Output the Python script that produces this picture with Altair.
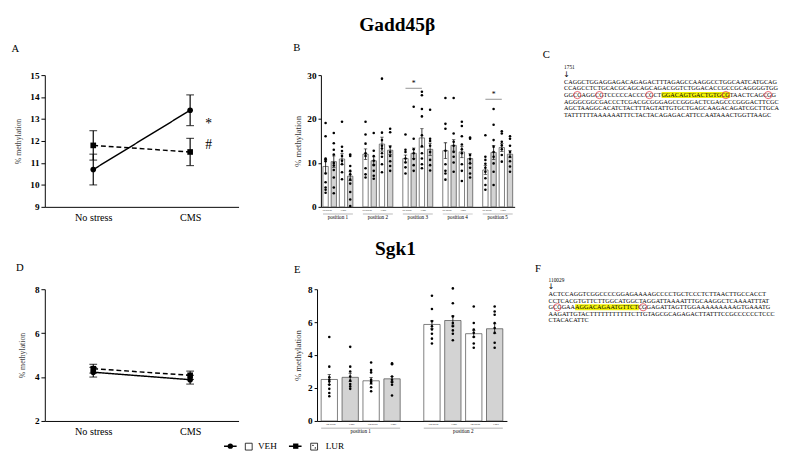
import altair as alt
import pandas as pd

SERIF = "Liberation Serif, Times New Roman, Times, serif"

# ---------------- data ----------------
conditions = ["No stress", "CMS"]
treatments = ["VEH", "LUR"]

# Panel A : Gadd45b mean methylation (line plot)
gadd_veh_mean = [10.7, 13.4]
gadd_veh_sem = [0.7, 0.7]
gadd_lur_mean = [11.8, 11.5]
gadd_lur_sem = [0.67, 0.62]
gadd_annot_text = ["*", "#"]
gadd_annot_y = [12.75, 11.8]

# Panel D : Sgk1 mean methylation (line plot)
sgk_veh_mean = [4.22, 3.88]
sgk_veh_sem = [0.22, 0.2]
sgk_lur_mean = [4.38, 4.08]
sgk_lur_sem = [0.2, 0.19]

# Panel B : Gadd45b per CpG position (bars: NoStress-VEH, NoStress-LUR, CMS-VEH, CMS-LUR)
bar_treatment = ["VEH", "LUR", "VEH", "LUR"]
gadd_positions = ["position 1", "position 2", "position 3", "position 4", "position 5"]
gadd_bar_mean = [[9.2, 10.3, 10.9, 7.0], [12.0, 10.5, 14.3, 12.9], [11.0, 12.2, 15.7, 13.1],
                 [12.8, 14.0, 12.5, 11.0], [8.4, 12.4, 13.5, 12.0]]
gadd_bar_sem = [[1.5, 1.3, 1.2, 1.0], [1.2, 0.9, 1.6, 1.0], [0.8, 1.2, 2.1, 1.4],
                [1.8, 1.3, 1.3, 1.1], [1.0, 1.6, 0.9, 0.8]]
gadd_bar_dots = [
    [[19.1, 16.1, 11.0, 10.8, 10.4, 7.6, 5.6, 4.4, 3.9, 3.2],
     [16.8, 14.5, 13.0, 11.9, 10.0, 9.4, 8.4, 6.7, 4.4, 3.1],
     [19.4, 13.7, 12.7, 11.6, 10.5, 9.7, 7.9, 6.3],
     [11.9, 11.6, 9.3, 8.2, 7.4, 6.2, 5.3, 3.4, 1.7, 0.2]],
    [[19.4, 16.5, 14.4, 12.2, 11.6, 8.8, 7.4, 6.7],
     [16.8, 12.8, 11.6, 10.5, 9.5, 8.2, 7.1, 6.4],
     [29.2, 16.9, 15.2, 13.9, 13.3, 12.2, 11.4, 9.7, 7.9],
     [17.8, 17.0, 13.7, 12.5, 11.6, 10.4, 9.3, 8.2]],
    [[16.5, 13.0, 12.5, 11.0, 10.1, 9.0, 7.6],
     [22.8, 15.5, 13.1, 12.2, 10.9, 9.5, 8.2],
     [26.2, 25.4, 22.3, 20.6, 16.3, 13.8, 12.2, 11.0, 9.7, 8.8],
     [22.1, 15.5, 15.0, 13.9, 12.5, 10.7, 9.5, 8.3]],
    [[24.8, 18.9, 17.8, 12.8, 9.7, 8.2, 7.6, 6.2],
     [24.8, 16.7, 14.8, 13.9, 12.5, 11.4, 10.1, 8.0],
     [19.4, 18.4, 16.1, 14.2, 13.1, 12.2, 9.7, 8.2, 5.9],
     [15.8, 15.5, 11.8, 10.9, 9.9, 8.9, 7.6, 6.7]],
    [[16.3, 11.4, 10.7, 9.8, 8.9, 8.0, 6.5, 5.0, 3.9],
     [22.3, 18.7, 15.2, 13.7, 12.5, 11.4, 9.9, 8.0, 5.0],
     [17.2, 16.7, 14.8, 14.0, 13.1, 11.8, 10.3],
     [16.1, 15.5, 13.9, 12.5, 11.4, 10.4, 9.2, 8.0]],
]
gadd_sublabels = ["No stress", "", "CMS", ""]
gadd_sig_positions = ["position 3", "position 5"]
gadd_sig_y = [27.0, 24.5]

# Panel E : Sgk1 per CpG position
sgk_positions = ["position 1", "position 2"]
sgk_bar_mean = [[2.52, 2.65, 2.44, 2.56], [5.86, 6.1, 5.3, 5.6]]
sgk_bar_sem = [[0.3, 0.25, 0.2, 0.15], [0.25, 0.28, 0.2, 0.3]]
sgk_bar_dots = [
    [[5.1, 3.3, 2.65, 2.5, 2.4, 2.2, 1.95, 1.7, 1.5],
     [4.5, 3.3, 3.0, 2.7, 2.45, 2.25, 2.1, 1.95],
     [3.55, 3.1, 2.95, 2.5, 2.4, 2.3, 2.05, 1.8],
     [3.5, 3.45, 2.7, 2.5, 2.35, 2.2, 1.55]],
    [[7.6, 6.8, 6.05, 5.75, 5.55, 5.3, 5.0, 4.7],
     [8.05, 7.15, 6.35, 5.95, 5.75, 5.5, 5.3, 4.9],
     [6.95, 5.95, 5.55, 5.35, 5.1, 4.7, 4.45],
     [6.95, 6.65, 6.45, 5.95, 5.65, 5.35, 4.75, 4.45]],
]
sgk_sublabels = ["No stress", "CMS", "No stress", "CMS"]

# Panels C and F : sequences
gadd_seq_start = "1751"
gadd_seq = [
    "CAGGCTGGAGGAGACAGAGACTTTAGAGCCAAGGCCTGGCAATCATGCAG",
    "CCAGCCTCTGCACGCAGCAGCAGACGGTCTGGACACCGCCGCAGGGGTGG",
    "GGCGAGGCGTCCCCCACCCCGCTGGACAGTGACTGTGCGTAACTCAGCGG",
    "AGGGCGGCGACCCTCGACGCGGGAGCCGGGACTCGAGCCCGGGACTTCGC",
    "AGCTAAGGCACATCTACTTTAGTATTGTGCTGAGCAAGACAGATCGCTTGCA",
    "TATTTTTTAAAAAATTTCTACTACAGAGACATTCCAATAAACTGGTTAAGC",
]
gadd_highlight = (2, 23, 39)          # line, first char, end char
gadd_cpg = [(2, 2), (2, 7), (2, 19), (2, 37), (2, 47)]

sgk_seq_start = "110029"
sgk_seq = [
    "ACTCCAGGTCGGCCCCGGAGAAAAGCCCCTGCTCCCTCTTAACTTGCCACCT",
    "CCTCACGTGTTCTTGGCATGGCTAGGATTAAAATTTGCAAGGCTCAAAATTTAT",
    "GCGGAAAGGACAGAATGTTCTCGGAGATTAGTTGGAAAAAAAAAGTGAAATG",
    "AAGATTGTACTTTTTTTTTTTCTTGTAGCGCAGAGACTTATTTCCGCCCCCCTCCC",
    "CTACACATTC",
]
sgk_highlight = (2, 6, 21)
sgk_cpg = [(2, 1), (2, 21)]

# Times/Liberation Serif advance widths (em) for the sequence letters
CHAR_EM = {"A": 0.722, "C": 0.667, "G": 0.722, "T": 0.611}

HATCH = "#d3d3d3"
PLOT_H = 136


# ---------------- helpers ----------------
def line_panel(veh_m, veh_s, lur_m, lur_s, dom, ticks, letter, title_offset,
               annot=None, annot_y=None, height=PLOT_H):
    rows = []
    for g, ms, ss in (("VEH", veh_m, veh_s), ("LUR", lur_m, lur_s)):
        for c, m, s in zip(conditions, ms, ss):
            rows.append({"group": g, "cond": c, "mean": m, "lo": m - s, "hi": m + s})
    df = pd.DataFrame(rows)
    caps = df.melt(id_vars=["group", "cond"], value_vars=["lo", "hi"], value_name="v")

    xenc = alt.X("cond:N", sort=conditions,
                 scale=alt.Scale(type="point", domain=conditions, padding=0.5),
                 axis=alt.Axis(title=None, labelAngle=0, ticks=False, labelFontSize=10.5,
                               labelPadding=6, labelFont=SERIF))
    yscale = alt.Scale(domain=dom, nice=False, zero=False)
    yaxis = alt.Axis(values=ticks, title="% methylation", titleFontSize=8,
                     titleFontWeight="normal", titleColor="#444", labelFontSize=9.5,
                     labelFontWeight="bold", labelFont=SERIF, titleFont=SERIF,
                     tickSize=4, labelPadding=2, titlePadding=8)

    def Y(f):
        return alt.Y(f"{f}:Q", scale=yscale, axis=yaxis)

    dash = alt.StrokeDash("group:N", scale=alt.Scale(domain=treatments, range=[[1, 0], [5, 3]]),
                          legend=None)
    shape = alt.Shape("group:N", scale=alt.Scale(domain=treatments, range=["circle", "square"]),
                      legend=None)
    base = alt.Chart(df)
    err = base.mark_rule(color="black", strokeWidth=1.2).encode(x=xenc, y=Y("lo"), y2="hi:Q")
    cap = alt.Chart(caps).mark_tick(color="black", thickness=1.2, size=8).encode(x=xenc, y=Y("v"))
    line = base.mark_line(color="black", strokeWidth=1.5).encode(
        x=xenc, y=Y("mean"), strokeDash=dash, detail="group:N")
    pts = base.mark_point(filled=True, color="black", opacity=1, size=34).encode(
        x=xenc, y=Y("mean"), shape=shape)
    layers = [err, cap, line, pts]
    if annot:
        adf = pd.DataFrame({"cond": ["CMS"] * len(annot), "v": annot_y, "t": annot})
        layers.append(alt.Chart(adf).mark_text(dx=19, fontSize=14, font=SERIF, color="black",
                                               baseline="middle").encode(
            x=xenc, y=Y("v"), text="t:N"))
    return alt.layer(*layers).properties(
        width=200, height=height,
        title=alt.Title(letter, anchor="start", frame="bounds", fontSize=11,
                        fontWeight="normal", font=SERIF, offset=title_offset, dx=-3))


def bar_panel(positions, means, sems, dots, sublabels, dom, ticks, letter, title_offset,
              width, height, pad_inner, pad_outer, off_inner, jitter, sub_size,
              sig_pos=None, sig_y=None):
    rows, drows, lrows = [], [], []
    for p, ms, ss, ds in zip(positions, means, sems, dots):
        for b, (m, s, d) in enumerate(zip(ms, ss, ds), start=1):
            rows.append({"pos": p, "bar": b, "trt": bar_treatment[b - 1],
                         "mean": m, "lo": m - s, "hi": m + s})
            for v in d:
                drows.append({"pos": p, "bar": b, "v": v})
            if sublabels[b - 1]:
                lrows.append({"pos": p, "bar": b, "lab": sublabels[b - 1]})
    df = pd.DataFrame(rows)
    ddf = pd.DataFrame(drows)
    ldf = pd.DataFrame(lrows)
    caps = df.melt(id_vars=["pos", "bar"], value_vars=["lo", "hi"], value_name="v")

    xenc = alt.X("pos:N", sort=positions,
                 scale=alt.Scale(domain=positions, paddingInner=pad_inner, paddingOuter=pad_outer),
                 axis=alt.Axis(title=None, labelAngle=0, ticks=False, labelFontSize=5.3,
                               labelPadding=8, labelFont=SERIF))
    xo = alt.XOffset("bar:O", scale=alt.Scale(domain=[1, 2, 3, 4], paddingInner=off_inner))
    yscale = alt.Scale(domain=dom, nice=False, zero=True)
    yaxis = alt.Axis(values=ticks, title="% methylation", titleFontSize=9,
                     titleFontWeight="normal", titleColor="#333", labelFontSize=9.5,
                     labelFontWeight="bold", labelFont=SERIF, titleFont=SERIF,
                     tickSize=3, labelPadding=2, titlePadding=5)

    def Y(f):
        return alt.Y(f"{f}:Q", scale=yscale, axis=yaxis)

    fill = alt.Fill("trt:N", scale=alt.Scale(domain=treatments, range=["white", HATCH]),
                    legend=None)
    bars = alt.Chart(df).mark_bar(stroke="#444", strokeWidth=0.7).encode(
        x=xenc, xOffset=xo, y=Y("mean"), fill=fill)
    err = alt.Chart(df).mark_rule(color="black", strokeWidth=0.8).encode(
        x=xenc, xOffset=xo, y=Y("lo"), y2="hi:Q")
    cap = alt.Chart(caps).mark_tick(color="black", thickness=0.8, size=3.5).encode(
        x=xenc, xOffset=xo, y=Y("v"))
    layers = [bars, err, cap]
    for k, dx in enumerate(jitter):
        layers.append(
            alt.Chart(ddf).transform_window(idx="row_number()", groupby=["pos", "bar"])
            .transform_filter(f"datum.idx % {len(jitter)} == {k}")
            .mark_circle(size=7, color="black", opacity=1, dx=dx)
            .encode(x=xenc, xOffset=xo, y=Y("v"))
        )
    layers.append(alt.Chart(ldf).mark_text(fontSize=sub_size, font=SERIF, baseline="top",
                                           color="black", dx=1.5).encode(
        x=xenc, xOffset=xo, y=alt.value(height + 2.5), text="lab:N"))
    layers.append(alt.Chart(pd.DataFrame({"pos": positions})).mark_rect(color="#999").encode(
        x=xenc, y=alt.value(height + 7), y2=alt.value(height + 7.7)))
    if sig_pos:
        srows, trows = [], []
        for i, (p, yv) in enumerate(zip(sig_pos, sig_y)):
            srows += [{"pos": p, "bar": 1, "v": yv, "id": i}, {"pos": p, "bar": 3, "v": yv, "id": i}]
            trows.append({"pos": p, "bar": 2, "v": yv + 1.0, "t": "*"})
        layers.append(alt.Chart(pd.DataFrame(srows)).mark_line(color="#777", strokeWidth=0.8).encode(
            x=xenc, xOffset=xo, y=Y("v"), detail="id:N"))
        layers.append(alt.Chart(pd.DataFrame(trows)).mark_text(fontSize=8, font=SERIF, color="black",
                                                               baseline="middle").encode(
            x=xenc, xOffset=xo, y=Y("v"), text="t:N"))
    return alt.layer(*layers).properties(
        width=width, height=height,
        title=alt.Title(letter, anchor="start", frame="bounds", fontSize=11,
                        fontWeight="normal", font=SERIF, offset=title_offset))


def seq_panel(start_label, lines, hl, cpg, letter, title_offset, title_dx, first_px,
              width=240, height=PLOT_H):
    fs = 6.4
    x0 = -14 / fs
    xs = alt.Scale(domain=[x0, x0 + width / fs], nice=False, zero=False)
    row_px = 6.8
    y0 = -first_px / row_px
    ys = alt.Scale(domain=[y0, y0 + height / row_px], nice=False, zero=False, reverse=True)

    def em(s):
        return sum(CHAR_EM[c] for c in s)

    tdf = pd.DataFrame({"x": [0.0] * len(lines), "r": list(range(len(lines))), "t": lines})
    ln, a, b = hl
    hdf = pd.DataFrame({"x": [em(lines[ln][:a])], "x2": [em(lines[ln][:b])],
                        "r": [ln - 0.46], "r2": [ln + 0.46]})
    cdf = pd.DataFrame({"x": [em(lines[l][:i]) + em(lines[l][i:i + 2]) / 2 for l, i in cpg],
                        "r": [l for l, i in cpg]})
    X = alt.X("x:Q", scale=xs, axis=None)
    Yr = alt.Y("r:Q", scale=ys, axis=None)
    hlayer = alt.Chart(hdf).mark_rect(color="#f2f20a").encode(x=X, x2="x2:Q", y=Yr, y2="r2:Q")
    text = alt.Chart(tdf).mark_text(align="left", baseline="middle", font=SERIF, fontSize=fs,
                                    color="black").encode(x=X, y=Yr, text="t:N")
    circ = alt.Chart(cdf).mark_point(shape="circle", filled=False, color="#e0404a",
                                     strokeWidth=0.8, size=55, opacity=1).encode(x=X, y=Yr)
    sdf = pd.DataFrame({"x": [0.0], "r": [-2.2], "t": [start_label]})
    start = alt.Chart(sdf).mark_text(align="left", baseline="middle", font=SERIF, fontSize=5.5,
                                     color="black").encode(x=X, y=Yr, text="t:N")
    adf = pd.DataFrame({"x": [0.4], "r": [-1.0], "t": ["↓"]})
    arrow = alt.Chart(adf).mark_text(align="center", baseline="middle", font="DejaVu Sans",
                                     fontSize=8, color="black").encode(x=X, y=Yr, text="t:N")
    return alt.layer(hlayer, text, circ, start, arrow).properties(
        width=width, height=height,
        title=alt.Title(letter, anchor="start", frame="group", fontSize=11,
                        fontWeight="normal", font=SERIF, offset=title_offset, dx=title_dx))


# ---------------- panels ----------------
A = line_panel(gadd_veh_mean, gadd_veh_sem, gadd_lur_mean, gadd_lur_sem, [9, 15],
               [9, 10, 11, 12, 13, 14, 15], "A", 17, gadd_annot_text, gadd_annot_y)
B = bar_panel(gadd_positions, gadd_bar_mean, gadd_bar_sem, gadd_bar_dots, gadd_sublabels,
              [0, 30], [0, 10, 20, 30], "B", 18, 200, PLOT_H, 0.25, 0.05, 0.35,
              [-1.6, 0, 1.6], 2.6, gadd_sig_positions, gadd_sig_y)
C = seq_panel(gadd_seq_start, gadd_seq, gadd_highlight, gadd_cpg, "C", 6, -8, 7.0)

D = line_panel(sgk_veh_mean, sgk_veh_sem, sgk_lur_mean, sgk_lur_sem, [2, 8],
               [2, 4, 6, 8], "D", 12)
E = bar_panel(sgk_positions, sgk_bar_mean, sgk_bar_sem, sgk_bar_dots, sgk_sublabels,
              [0, 8], [0, 2, 4, 6, 8], "E", 10, 196, PLOT_H, 0.23, 0.04, 0.22,
              [-4, 0, 4], 2.7)
F = seq_panel(sgk_seq_start, sgk_seq, sgk_highlight, sgk_cpg, "F", 4, 0, 5.0)

# ---------------- legend ----------------
leg_scale_x = alt.Scale(domain=[0, 350], nice=False, zero=False)
leg_scale_y = alt.Scale(domain=[0, 10], nice=False, zero=False)
LX = alt.X("x:Q", scale=leg_scale_x, axis=None)
LY = alt.Y("y:Q", scale=leg_scale_y, axis=None)
leg_lines = pd.DataFrame({"x": [185, 198, 252, 267], "y": [5] * 4, "g": ["VEH", "VEH", "LUR", "LUR"]})
leg_marks = pd.DataFrame({"x": [191.5, 259], "y": [5, 5], "g": ["VEH", "LUR"]})
leg_boxes = pd.DataFrame({"x": [210.5, 278], "y": [4.5, 4.5], "g": ["VEH", "LUR"]})
leg_dots = pd.DataFrame({"x": [276.8, 279.2], "y": [5.8, 3.2]})
leg_text = pd.DataFrame({"x": [220, 290], "y": [5, 5], "t": treatments})
legend = alt.layer(
    alt.Chart(leg_lines).mark_line(color="black", strokeWidth=1.5).encode(
        x=LX, y=LY, detail="g:N",
        strokeDash=alt.StrokeDash("g:N", scale=alt.Scale(domain=treatments, range=[[1, 0], [4, 2]]),
                                  legend=None)),
    alt.Chart(leg_marks).mark_point(filled=True, color="black", opacity=1, size=30).encode(
        x=LX, y=LY, shape=alt.Shape("g:N", scale=alt.Scale(domain=treatments, range=["circle", "square"]),
                                    legend=None)),
    alt.Chart(leg_boxes).mark_point(shape="square", filled=False, fill="white", color="black",
                                    strokeWidth=0.8, size=50, opacity=1).encode(x=LX, y=LY),
    alt.Chart(leg_dots).mark_circle(color="black", size=2, opacity=1).encode(x=LX, y=LY),
    alt.Chart(leg_text).mark_text(align="left", baseline="middle", font=SERIF, fontSize=9.5,
                                  color="black").encode(x=LX, y=LY, text="t:N"),
).properties(width=350, height=10)

IND = dict(xOffset="independent")

row1 = alt.hconcat(alt.hconcat(A, B, spacing=55).resolve_scale(**IND), C, spacing=27,
                   title=alt.Title("Gadd45β", fontSize=20, fontWeight="bold", font=SERIF,
                                   anchor="middle", offset=7)).resolve_scale(**IND)
row2 = alt.hconcat(alt.hconcat(D, E, spacing=55).resolve_scale(**IND), F, spacing=27,
                   title=alt.Title("Sgk1", fontSize=20, fontWeight="bold", font=SERIF,
                                   anchor="middle", offset=3)).resolve_scale(**IND)

chart = alt.vconcat(row1, alt.vconcat(row2, legend, spacing=3).resolve_scale(**IND),
                    spacing=16).resolve_scale(**IND).properties(
    padding={"left": 3, "top": 0, "right": 0, "bottom": 0}
).configure_view(stroke="transparent").configure_axis(
    domainColor="black", tickColor="black", labelColor="black", grid=False,
    labelFont=SERIF, titleFont=SERIF, domainWidth=1
).configure_title(font=SERIF, color="black")

chart.save("out.html", embed_options={"renderer": "svg", "actions": False})
